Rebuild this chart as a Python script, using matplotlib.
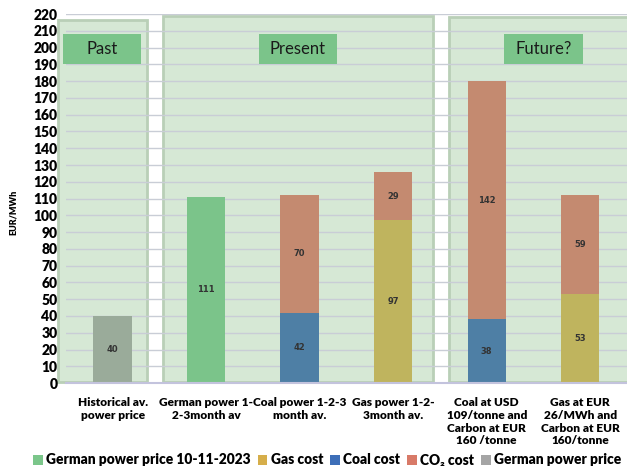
import numpy as np
import matplotlib.pyplot as plt
from matplotlib.patches import Rectangle, Patch

plt.rcParams["font.family"] = ["Lato", "DejaVu Sans"]

categories = [
    "Historical av.\npower price",
    "German power 1-\n2-3month av",
    "Coal power 1-2-3\nmonth av.",
    "Gas power 1-2-\n3month av.",
    "Coal at USD\n109/tonne and\nCarbon at EUR\n160 /tonne",
    "Gas at EUR\n26/MWh and\nCarbon at EUR\n160/tonne",
]
german_price_now = [0, 111, 0, 0, 0, 0]
gas_cost = [0, 0, 0, 97, 0, 53]
coal_cost = [0, 0, 42, 0, 38, 0]
co2_cost = [0, 0, 70, 29, 142, 59]
german_price_hist = [40, 0, 0, 0, 0, 0]

series = [
    ("German power price 10-11-2023", german_price_now, "#7bc68a", "#7bc48a"),
    ("Gas cost", gas_cost, "#d6ae4a", "#bfb45e"),
    ("Coal cost", coal_cost, "#3d6fb8", "#4e7fa5"),
    ("CO\u2082 cost", co2_cost, "#d87a68", "#c48a70"),
    ("German power price", german_price_hist, "#a5a5a5", "#9aab9a"),
]

# period panels: (label, x0, x1, top, label box x0, x1)
panels = [
    ("Past", -0.585, 0.366, 216.5, -0.53, 0.30),
    ("Present", 0.537, 3.425, 219.0, 1.56, 2.40),
    ("Future?", 3.597, 5.70, 218.0, 4.18, 5.03),
]

fig = plt.figure(figsize=(6.27, 4.70), dpi=100)
ax = fig.add_axes([0.105, 0.185, 0.895, 0.785])

x = np.arange(len(categories))
width = 0.41

for name, x0, x1, top, bx0, bx1 in panels:
    ax.add_patch(Rectangle((x0, 0.5), x1 - x0, top - 0.5, facecolor="#d6e8d5",
                           edgecolor="#b9cfb7", lw=2, zorder=0.2, clip_on=False))
    ax.add_patch(Rectangle((bx0, 190.5), bx1 - bx0, 17.5, facecolor="#7bc48a",
                           edgecolor="none", zorder=3, clip_on=False))
    ax.text((bx0 + bx1) / 2, 199.2, name, ha="center", va="center",
            fontsize=12, color="#1a1a1a", zorder=4)

bottom = np.zeros(len(categories))
for name, vals, _, shown in series:
    vals = np.array(vals, dtype=float)
    ax.bar(x, vals, width, bottom=bottom, color=shown, zorder=2)
    for xi, b, v in zip(x, bottom, vals):
        if v > 0:
            ax.text(xi, b + v / 2, f"{v:.0f}", ha="center", va="center",
                    fontsize=6, fontweight="bold", color="#333333", zorder=4,
                    family="DejaVu Sans")
    bottom += vals

ax.set_xlim(-0.5, 5.5)
ax.set_ylim(0, 220)
ax.set_yticks(np.arange(0, 221, 10))
ax.set_axisbelow(True)
ax.yaxis.grid(True, color="#c9cdd6", lw=1)
ax.set_xticks(x)
ax.set_xticklabels(categories, fontsize=8.6, fontweight="heavy", linespacing=1.2)
for lab in ax.get_yticklabels():
    lab.set_fontweight("heavy")
    lab.set_fontsize(10)
ax.tick_params(axis="both", length=0, pad=10)
ax.tick_params(axis="y", pad=6)
for side in ["top", "right", "left"]:
    ax.spines[side].set_visible(False)
ax.spines["bottom"].set_color("#c3c3dd")
ax.spines["bottom"].set_linewidth(1.5)

fig.text(13 / 627, 1 - 212 / 470, "EUR/MWh", rotation=90, ha="center", va="center",
         fontsize=6.5, fontweight="heavy")

handles = [Patch(facecolor=c, label=n) for n, _, c, _ in series]
fig.legend(handles=handles, loc="center", bbox_to_anchor=(0.522, 1 - 460 / 470), ncol=5,
           frameon=False, prop={"weight": "heavy", "size": 9.9}, handlelength=0.7,
           handleheight=0.7, handletextpad=0.25, columnspacing=0.5)

fig.savefig("out.png", dpi=100)
